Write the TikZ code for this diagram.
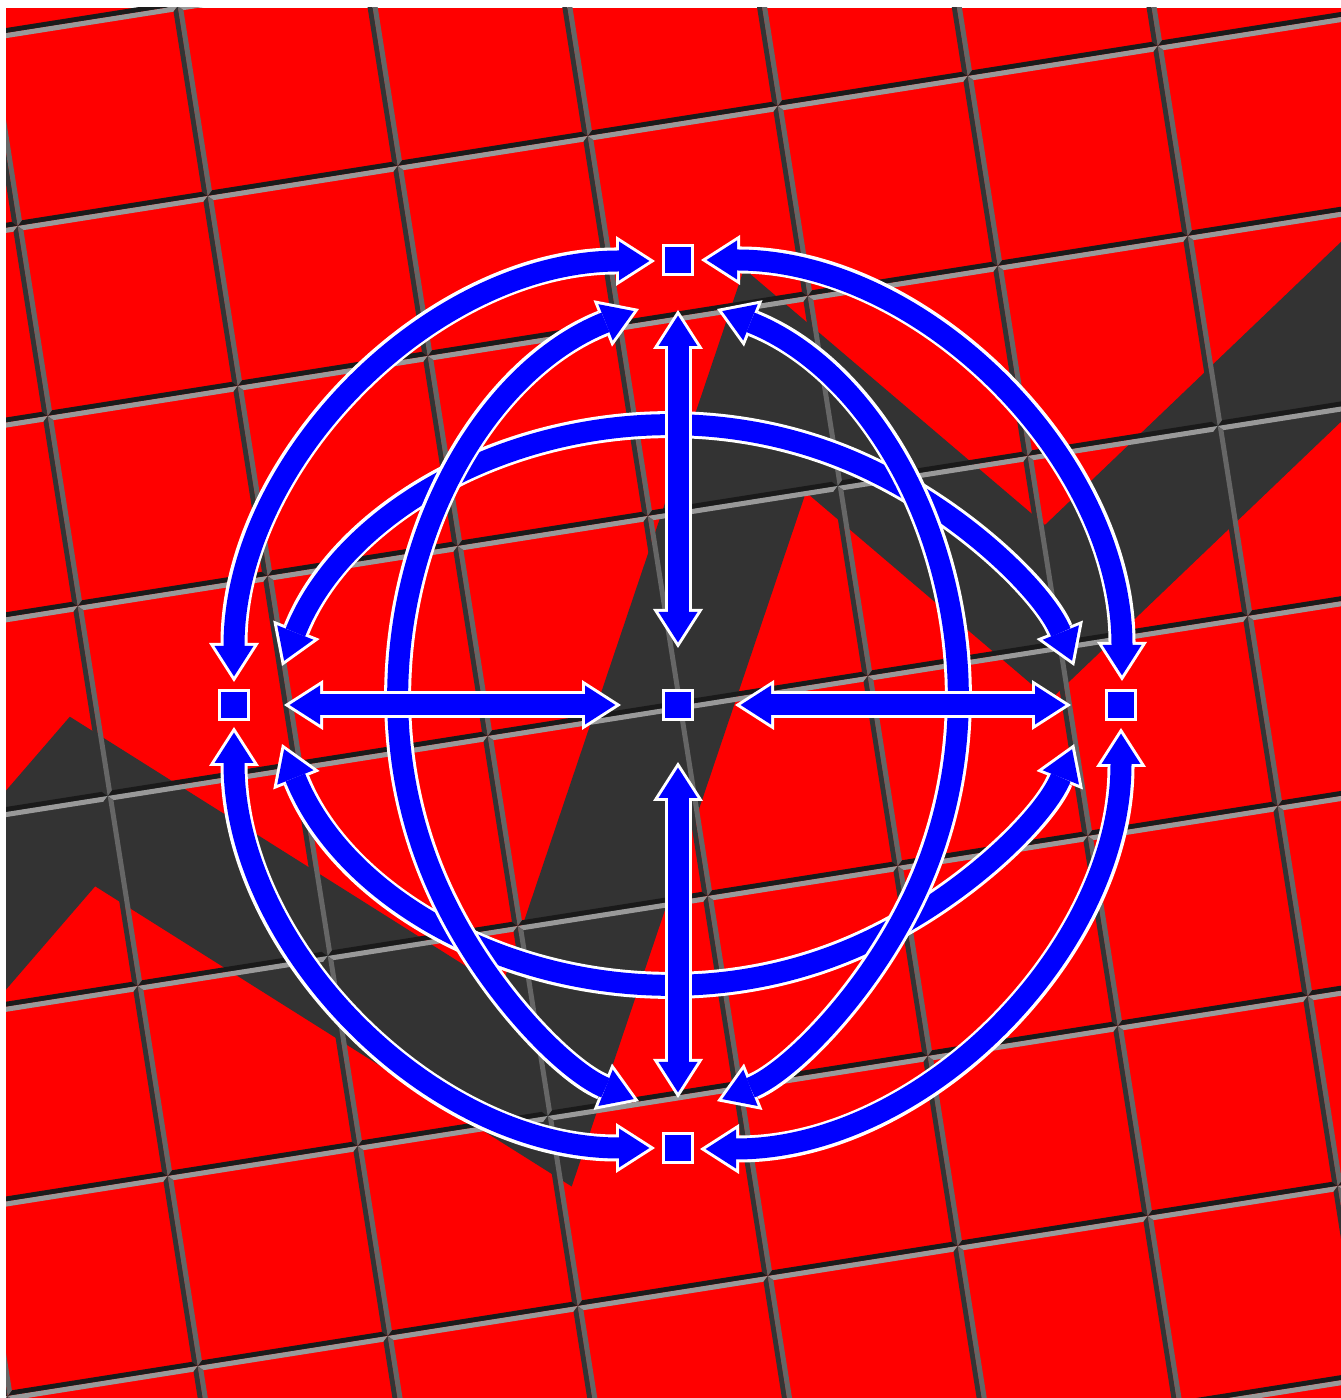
\documentclass[tikz,border=0pt]{standalone}
\usetikzlibrary{arrows.meta}
\definecolor{bandgray}{HTML}{333333}
\definecolor{bvtop}{HTML}{999999}
\definecolor{bvleft}{HTML}{666666}
\definecolor{bvright}{HTML}{333333}
\definecolor{bvbottom}{HTML}{1A1A1A}
\definecolor{tilered}{HTML}{FF0000}
\definecolor{arrowblue}{HTML}{0000FF}
\def\bw{0.026}
\tikzset{
  sq/.style={rectangle, minimum size=29pt, inner sep=0pt, fill=arrowblue, draw=white, line width=3pt},
  barrow/.style n args={4}{draw=arrowblue, line width=21pt,
     {Triangle[length=30.4pt,width=39pt,line width=0pt]}-{Triangle[length=30.4pt,width=39pt,line width=0pt]},
     shorten <=#3, shorten >=#4,
     preaction={draw=white, line width=27pt,
       {Triangle[length=39pt,width=50pt,line width=0pt]}-{Triangle[length=39pt,width=50pt,line width=0pt]},
       shorten <=#1, shorten >=#2}},
}
\begin{document}
\begin{tikzpicture}[x=1pt,y=1pt]
\useasboundingbox (0,0) rectangle (1341,1398);
\begin{scope}
  \clip (6,0) rectangle (1341,1390);
  \fill[tilered] (6,0) rectangle (1341,1390);
  \draw[bandgray, line width=130pt, line join=miter]
    (-113,370) -- (82.5,596.5) -- (536.5,310.5) -- (775,1017.5) -- (1047.5,785.5) -- (1481,1200);
  \begin{scope}[shift={(207.7,1202)}, x={(190pt,30pt)}, y={(30pt,-190pt)}]
    \foreach \i in {-3,...,6}{
      \foreach \j in {-2,...,7}{
        \begin{scope}[shift={(\i,\j)}]
          \fill[bvtop] (0,0) -- (1,0) -- (1-\bw,\bw) -- (\bw,\bw) -- cycle;
          \fill[bvbottom] (0,1) -- (1,1) -- (1-\bw,1-\bw) -- (\bw,1-\bw) -- cycle;
          \fill[bvleft] (0,0) -- (0,1) -- (\bw,1-\bw) -- (\bw,\bw) -- cycle;
          \fill[bvright] (1,0) -- (1,1) -- (1-\bw,1-\bw) -- (1-\bw,\bw) -- cycle;
        \end{scope}
      }
    }
  \end{scope}
\end{scope}

\node[sq] (T) at (678,1138) {};
\node[sq] (L) at (234,693) {};
\node[sq] (R) at (1121,693) {};
\node[sq] (B) at (678,250) {};
\node[sq] (C) at (678,693) {};

% outer quarter arcs
\draw[barrow={23pt}{23pt}{28.6pt}{28.6pt}] (L.center) arc[start angle=180, end angle=90, radius=444];
\draw[barrow={23pt}{23pt}{28.6pt}{28.6pt}] (T.center) arc[start angle=90, end angle=0, radius=444];
\draw[barrow={23pt}{23pt}{28.6pt}{28.6pt}] (R.center) arc[start angle=0, end angle=-90, radius=444];
\draw[barrow={23pt}{23pt}{28.6pt}{28.6pt}] (B.center) arc[start angle=270, end angle=180, radius=444];

% bent arcs
\draw[barrow={42pt}{42pt}{47.6pt}{47.6pt}] ([xshift=32.5pt]L.center) arc[start angle=158.3, end angle=21.7, radius=443];
\draw[barrow={42pt}{42pt}{47.6pt}{47.6pt}] ([xshift=32.5pt]L.center) arc[start angle=201.7, end angle=338.3, radius=443];
\draw[barrow={42pt}{42pt}{47.6pt}{47.6pt}] ([yshift=-33.5pt]T.center) arc[start angle=111.7, end angle=248.3, radius=443];
\draw[barrow={42pt}{42pt}{47.6pt}{47.6pt}] ([yshift=-33.5pt]T.center) arc[start angle=68.3, end angle=-68.3, radius=443];

% straight arrows
\draw[barrow={41pt}{34pt}{46.6pt}{39.6pt}] (C) -- (T);
\draw[barrow={41pt}{34pt}{46.6pt}{39.6pt}] (C) -- (L);
\draw[barrow={41pt}{34pt}{46.6pt}{39.6pt}] (C) -- (R);
\draw[barrow={41pt}{34pt}{46.6pt}{39.6pt}] (C) -- (B);
\end{tikzpicture}
\end{document}
